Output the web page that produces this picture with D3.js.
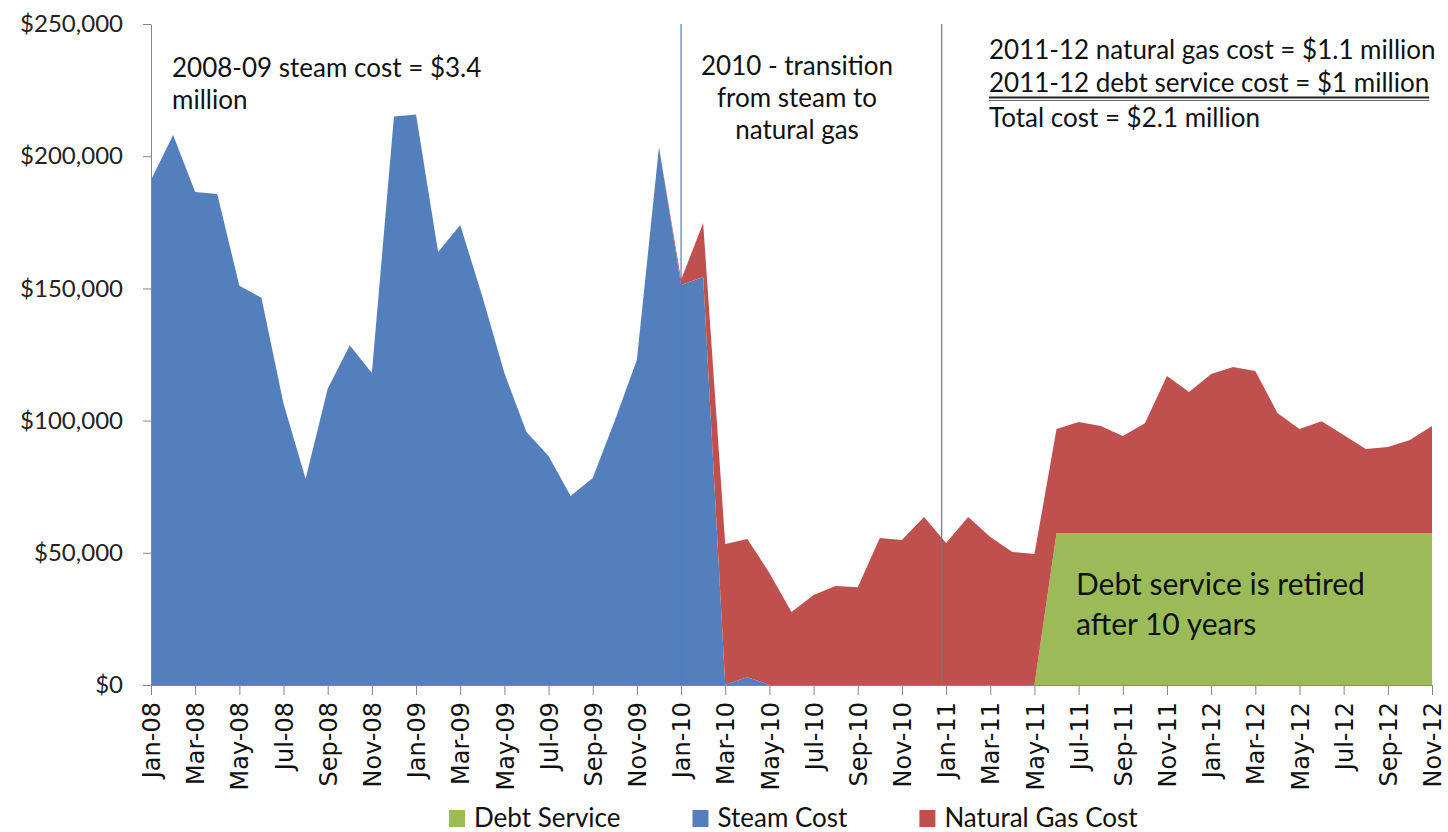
<!DOCTYPE html>
<html>
<head>
<meta charset="utf-8">
<title>Steam vs Natural Gas Cost</title>
<script src="https://d3js.org/d3.v7.min.js"></script>
<style>
  body { margin: 0; background: #fff; }
  svg { display: block; font-family: Lato, "Open Sans", sans-serif; }
  .note { font-size: 26px; fill: #111; }
  .y-axis text { font-size: 24px; fill: #222; font-family: Lato, sans-serif; }
  .x-axis text { font-size: 24px; fill: #111; font-family: "DejaVu Sans", sans-serif; }
  .axis path, .axis line { stroke: #868686; }
  .legend text { font-size: 26px; fill: #111; }
</style>
</head>
<body>
<div id="chart"></div>
<script>
// month labels, Jan-08 .. Nov-12
const months = [
  "Jan-08","Feb-08","Mar-08","Apr-08","May-08","Jun-08","Jul-08","Aug-08","Sep-08","Oct-08","Nov-08","Dec-08",
  "Jan-09","Feb-09","Mar-09","Apr-09","May-09","Jun-09","Jul-09","Aug-09","Sep-09","Oct-09","Nov-09","Dec-09",
  "Jan-10","Feb-10","Mar-10","Apr-10","May-10","Jun-10","Jul-10","Aug-10","Sep-10","Oct-10","Nov-10","Dec-10",
  "Jan-11","Feb-11","Mar-11","Apr-11","May-11","Jun-11","Jul-11","Aug-11","Sep-11","Oct-11","Nov-11","Dec-11",
  "Jan-12","Feb-12","Mar-12","Apr-12","May-12","Jun-12","Jul-12","Aug-12","Sep-12","Oct-12","Nov-12"
];

const debtService = [
  0,0,0,0,0,0,0,0,0,0,0,0,
  0,0,0,0,0,0,0,0,0,0,0,0,
  0,0,0,0,0,0,0,0,0,0,0,0,
  0,0,0,0,0,57500,57500,57500,57500,57500,57500,57500,
  57500,57500,57500,57500,57500,57500,57500,57500,57500,57500,57500
];

const steamCost = [
  191000,208000,186500,185700,151000,146500,106500,78000,112000,128500,118000,215000,
  215800,163800,174000,147000,118000,95700,86600,71500,78300,100000,123000,203500,
  151300,154300,0,3000,0,0,0,0,0,0,0,0,
  0,0,0,0,0,0,0,0,0,0,0,0,
  0,0,0,0,0,0,0,0,0,0,0
];

const gasCost = [
  0,0,0,0,0,0,0,0,0,0,0,0,
  0,0,0,0,0,0,0,0,0,0,0,0,
  2000,20400,53300,52200,42400,27600,34000,37400,37000,55600,54800,63500,
  53700,63500,56000,50300,49500,39300,42000,40500,36700,41500,59400,53300,
  60100,62800,61300,45400,39300,42300,37100,31800,32500,35200,40500
];

const seriesNames = ["Debt Service", "Steam Cost", "Natural Gas Cost"];
const seriesColors = ["#9bbb59", "#5380bd", "#c0504d"];
const yTicks = [0, 50000, 100000, 150000, 200000, 250000];
// vertical marker lines (month index)
const markers = [24, 35.8];

const width = 1448, height = 832;
const svg = d3.select("#chart").append("svg")
  .attr("width", width)
  .attr("height", height);

const x = d3.scaleLinear().domain([0, months.length - 1]).range([151, 1432]);
const y = d3.scaleLinear().domain([0, 250000]).range([685, 24]);

// build rows for the stack
const rows = months.map((m, i) => ({
  i: i,
  "Debt Service": debtService[i],
  "Steam Cost": steamCost[i],
  "Natural Gas Cost": gasCost[i]
}));
const stacked = d3.stack().keys(seriesNames)(rows);

const area = d3.area()
  .x(d => x(d.data.i))
  .y0(d => y(d[0]))
  .y1(d => y(d[1]));

svg.append("g").selectAll("path")
  .data(stacked)
  .join("path")
  .attr("d", area)
  .attr("fill", (d, k) => seriesColors[k]);

// marker lines
svg.append("g").selectAll("line")
  .data(markers)
  .join("line")
  .attr("x1", d => x(d)).attr("x2", d => x(d))
  .attr("y1", y(250000)).attr("y2", y(0))
  .attr("stroke", "#4a7ebb")
  .attr("stroke-width", 1.2);

// axes
svg.append("g")
  .attr("class", "axis y-axis")
  .attr("transform", "translate(" + x(0) + ",0)")
  .call(d3.axisLeft(y)
    .tickValues(yTicks)
    .tickSize(8)
    .tickSizeOuter(0)
    .tickPadding(20)
    .tickFormat(d => "$" + d3.format(",")(d)));

const xAxis = svg.append("g")
  .attr("class", "axis x-axis")
  .attr("transform", "translate(0," + y(0) + ")")
  .call(d3.axisBottom(x)
    .tickValues(months.map((m, i) => i).filter(i => i % 2 === 0))
    .tickSize(10)
    .tickSizeOuter(0)
    .tickFormat(i => months[i]));

xAxis.selectAll("text")
  .attr("transform", "rotate(-90)")
  .attr("text-anchor", "end")
  .attr("x", -17)
  .attr("y", 0)
  .attr("dy", "0.36em");

// annotations
const notes = svg.append("g").attr("class", "note");

notes.append("text").attr("x", 172).attr("y", 77).text("2008-09 steam cost = $3.4");
notes.append("text").attr("x", 172).attr("y", 109).text("million");

["2010 - transition", "from steam to", "natural gas"].forEach((t, k) => {
  notes.append("text")
    .attr("x", 797).attr("y", 75 + k * 32)
    .attr("text-anchor", "middle")
    .text(t);
});

notes.append("text").attr("x", 989).attr("y", 59).text("2011-12 natural gas cost = $1.1 million");
const debtLine = notes.append("text").attr("x", 989).attr("y", 92).text("2011-12 debt service cost = $1 million");
notes.append("text").attr("x", 989).attr("y", 127).text("Total cost = $2.1 million");

const dl = debtLine.node().getComputedTextLength();
notes.append("line").attr("x1", 989).attr("x2", 989 + dl)
  .attr("y1", 97.5).attr("y2", 97.5).attr("stroke", "#222").attr("stroke-width", 2);
notes.append("line").attr("x1", 989).attr("x2", 989 + dl)
  .attr("y1", 100.5).attr("y2", 100.5).attr("stroke", "#666").attr("stroke-width", 1);

svg.append("text").attr("x", 1076).attr("y", 595)
  .attr("font-size", 30).attr("fill", "#111")
  .text("Debt service is retired");
svg.append("text").attr("x", 1076).attr("y", 635)
  .attr("font-size", 30).attr("fill", "#111")
  .text("after 10 years");

// legend
const legend = svg.append("g").attr("class", "legend");
let lx = 449;
seriesNames.forEach((name, k) => {
  legend.append("rect")
    .attr("x", lx).attr("y", 810)
    .attr("width", 16).attr("height", 17)
    .attr("fill", seriesColors[k]);
  const t = legend.append("text")
    .attr("x", lx + 25).attr("y", 827)
    .text(name);
  lx += 25 + t.node().getComputedTextLength() + 72;
});
</script>
</body>
</html>
